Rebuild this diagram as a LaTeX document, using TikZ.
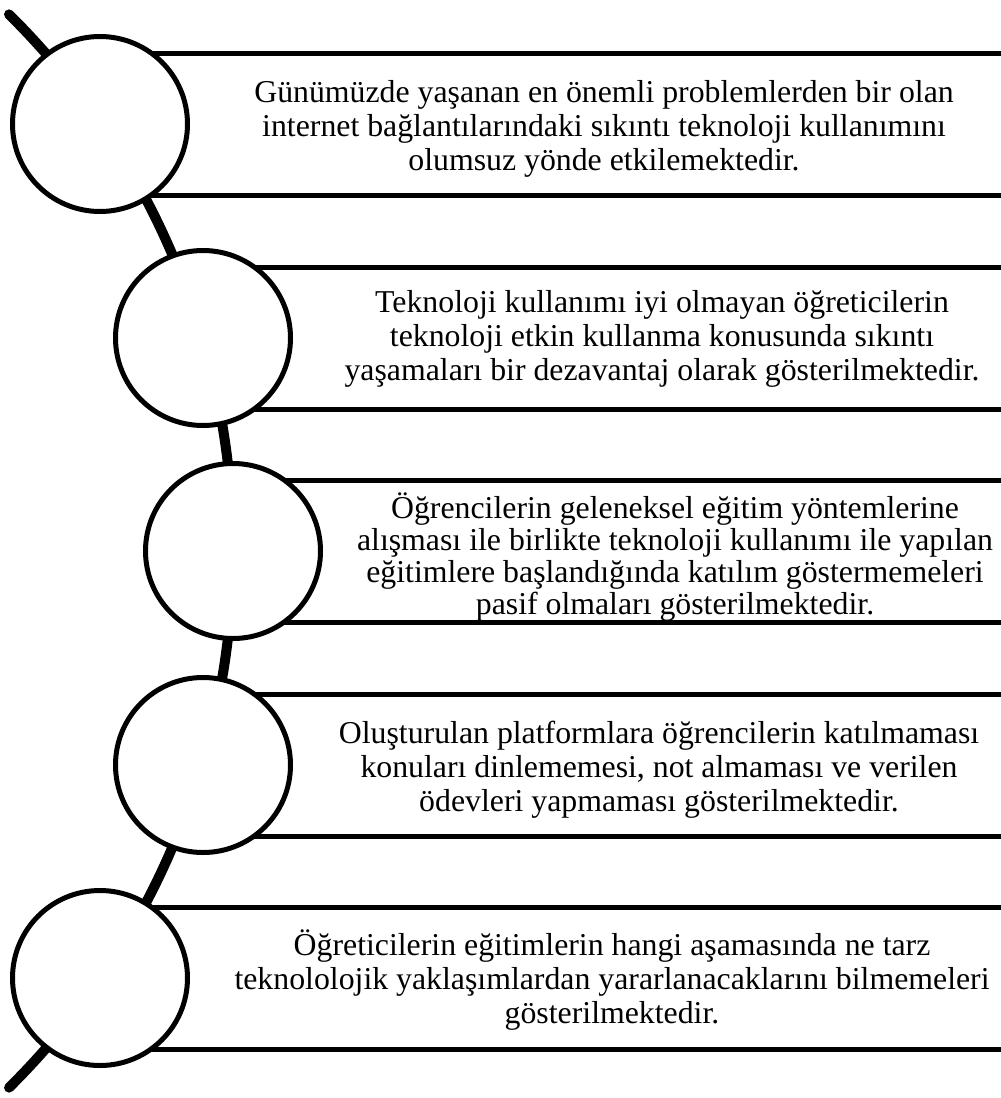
\documentclass[tikz,border=0pt]{standalone}
\usepackage{fontspec}
\setmainfont{Liberation Serif}
\usetikzlibrary{calc}
\begin{document}
\begin{tikzpicture}[x=1pt,y=-1pt,
  bubble/.style={circle, draw, line width=5pt, fill=white, minimum size=175pt, inner sep=0pt},
  band/.style={line width=5pt},
  spine/.style={line width=10pt, line cap=round},
  note/.style={align=center, inner sep=0pt, font=\fontsize{31.8}{34}\selectfont},
  tightnote/.style={note, font=\fontsize{31.8}{32.2}\selectfont}]
\useasboundingbox (0,0) rectangle (1001,1098);
% centres of the five bubbles along the spine
\coordinate (hub) at (-522,551);
\coordinate (edge) at (1001,0);
\coordinate (p1) at (100,124);
\coordinate (p2) at (203,338);
\coordinate (p3) at (233,551);
\coordinate (p4) at (203,765);
\coordinate (p5) at (100,978);
% curved spine
\draw[spine] (hub) ++(-45.3:755) coordinate (spinetop)
  arc[start angle=-45.3, end angle=45.3, radius=755] coordinate (spinebottom);
% horizontal rules framing each text band
\foreach \p in {p1,p2,p3,p4,p5}{
  \draw[band] ($(\p)+(0,-71)$) coordinate (a) -- (a -| edge);
  \draw[band] ($(\p)+(0,71)$) coordinate (b) -- (b -| edge);
}
% bubbles
\foreach \p in {1,2,3,4,5}{ \node[bubble] (c\p) at (p\p) {}; }
% texts
\node[note] (t1) at (604,129) {Günümüzde yaşanan en önemli problemlerden bir olan\\internet bağlantılarındaki sıkıntı teknoloji kullanımını\\olumsuz yönde etkilemektedir.};
\node[note] (t2) at (662,339) {Teknoloji kullanımı iyi olmayan öğreticilerin\\teknoloji etkin kullanma konusunda sıkıntı\\yaşamaları bir dezavantaj olarak gösterilmektedir.};
\node[tightnote] (t3) at (675,557) {Öğrencilerin geleneksel eğitim yöntemlerine\\alışması ile birlikte teknoloji kullanımı ile yapılan\\eğitimlere başlandığında katılım göstermemeleri\\pasif olmaları gösterilmektedir.};
\node[note] (t4) at (659,770) {Oluşturulan platformlara öğrencilerin katılmaması\\konuları dinlememesi, not almaması ve verilen\\ödevleri yapmaması gösterilmektedir.};
\node[note] (t5) at (612,980) {Öğreticilerin eğitimlerin hangi aşamasında ne tarz\\teknololojik yaklaşımlardan yararlanacaklarını bilmemeleri\\gösterilmektedir.};
\end{tikzpicture}
\end{document}
